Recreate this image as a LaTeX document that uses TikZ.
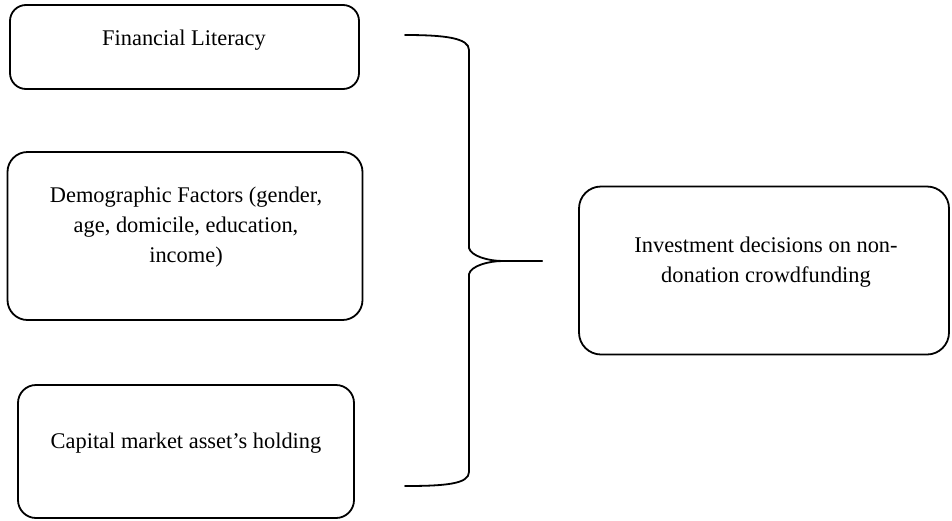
\documentclass[tikz,border=0pt]{standalone}
\usepackage{fontspec}
\setmainfont{Liberation Serif}
\begin{document}
\begin{tikzpicture}[x=1pt,y=-1pt,
  box/.style={draw=black,line width=1.8pt,rounded corners=16pt,inner sep=0pt},
  txt/.style={font=\fontsize{22.4}{30}\selectfont,align=center,inner sep=0pt,text=black},
  bracepath/.style={draw=black,line width=1.8pt,line cap=round}]
\useasboundingbox (0,0) rectangle (952,520);
% boxes
\node[box,minimum width=349pt,minimum height=84pt] (b1) at (184.5,47) {};
\node[box,minimum width=355pt,minimum height=168pt,rounded corners=20pt] (b2) at (185,236) {};
\node[box,minimum width=336pt,minimum height=133pt,rounded corners=18pt] (b3) at (186,451.5) {};
\node[box,minimum width=370pt,minimum height=168pt,rounded corners=22pt] (b4) at (764,270.5) {};
% texts
\node[txt,anchor=base] (t1) at (184,45) {Financial Literacy};
\node[txt] (t2) at (186,227) {Demographic Factors (gender,\\age, domicile, education,\\income)};
\node[txt,anchor=base] (t3) at (186,448) {Capital market asset’s holding};
\node[txt] (t4) at (766,262) {Investment decisions on non-\\donation crowdfunding};
% brace
\coordinate (btop) at (405,35);
\coordinate (bbot) at (405,486);
\coordinate (tip) at (542,261);
\path[bracepath] (btop) .. controls (445,35) and (469,38) .. (469,50)
  -- (469,248) .. controls (471,256) and (488,261) .. (503,261) -- (tip);
\path[bracepath] (tip) -- (503,261) .. controls (488,261) and (471,266) .. (469,274)
  -- (469,472) .. controls (469,484) and (445,486) .. (bbot);
\end{tikzpicture}
\end{document}
